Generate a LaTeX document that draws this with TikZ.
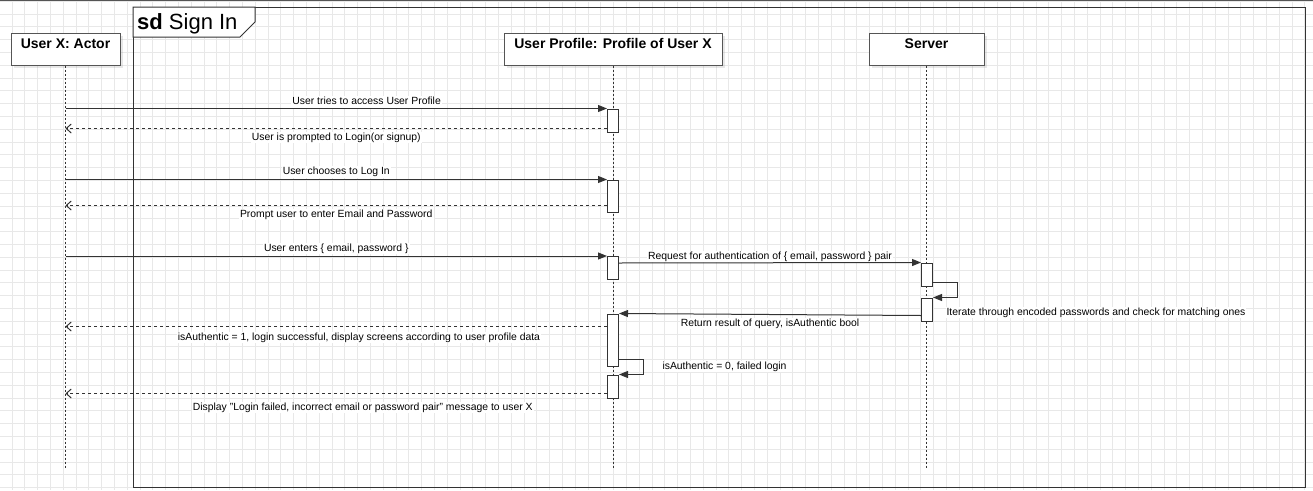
\documentclass[tikz,border=0pt]{standalone}
\usepackage{fontspec}
\setmainfont{Liberation Sans}
\usepackage{color}
\usepackage{tikz}
\definecolor{gray800}{HTML}{333333}
\definecolor{gray600}{HTML}{555555}
\definecolor{gray200}{HTML}{E8E8E8}
\usetikzlibrary{arrows.meta,shadows}
\tikzstyle{objeto}=[rectangle, draw=gray600, line width=1pt, fill=white, minimum height=32pt, inner sep=0pt, drop shadow={opacity=0.18, shadow xshift=3pt, shadow yshift=-3pt}]
\tikzstyle{titulo}=[font=\bfseries\fontsize{14}{16}\selectfont, anchor=north, inner sep=0pt]
\tikzstyle{linhavida}=[draw=gray800, line width=0.9pt, dash pattern=on 2pt off 2pt]
\tikzstyle{ativacao}=[rectangle, draw=gray800, line width=1pt, fill=white, minimum width=11pt, inner sep=0pt]
\tikzstyle{mensagem}=[draw=gray800, line width=1pt, -{Triangle[length=9pt,width=7pt]}]
\tikzstyle{retorno}=[draw=gray800, line width=1pt, dash pattern=on 3pt off 3pt, -{Straight Barb[length=5pt,width=9pt]}]
\tikzstyle{rotulo}=[font=\fontsize{10.4}{12}\selectfont, fill=white, inner sep=1pt, text height=7.5pt, text depth=2pt]

\begin{document}
\begin{tikzpicture}[x=1pt, y=-1pt]
	\useasboundingbox (0,0) rectangle (1313,490);
	% grade de fundo
	\foreach \i in {0,...,103}
		\draw[gray200, line width=0.8pt] ({-0.8+12.8*\i},0) -- ({-0.8+12.8*\i},490);
	\foreach \j in {0,...,38}
		\draw[gray200, line width=0.8pt] (0,{1.1+12.8*\j}) -- (1313,{1.1+12.8*\j});
	\draw[gray600, line width=1.5pt] (0,0.5) -- (1313,0.5);

	% quadro sd
	\draw[gray800, line width=1pt] (133,7) rectangle (1305,487);
	\draw[gray800, line width=1pt, fill=white] (133,7) -- (255,7) -- (255,22) -- (240,37) -- (133,37) -- cycle;
	\node[anchor=base west, inner sep=0pt, font=\fontsize{22}{24}\selectfont] (sd) at (137,29) {\textbf{sd} Sign In};

	% objetos e linhas de vida
	\node[objeto, minimum width=109pt] (ux) at (65.5,49) {};
	\node[objeto, minimum width=218pt] (up) at (613,49) {};
	\node[objeto, minimum width=115pt] (sv) at (926.5,49) {};
	\node[titulo] (tux) at ([yshift=-6pt]ux.north) {User X: Actor};
	\node[titulo] (tup) at ([yshift=-6pt]up.north) {User Profile: Profile of User X};
	\node[titulo] (tsv) at ([yshift=-6pt]sv.north) {Server};
	\draw[linhavida] (ux.south) -- ++(0,402);
	\draw[linhavida] (up.south) -- ++(0,402);
	\draw[linhavida] (sv.south) -- ++(0,402);

	% ativacoes
	\node[ativacao, minimum height=23pt] (a1) at (613,120.5) {};
	\node[ativacao, minimum height=32pt] (a2) at (613,196) {};
	\node[ativacao, minimum height=23pt] (a3) at (613,268) {};
	\node[ativacao, minimum height=23pt] (s1) at (927,274.5) {};
	\node[ativacao, minimum height=23pt] (s2) at (927,309.5) {};
	\node[ativacao, minimum height=52pt] (a4) at (613,340) {};
	\node[ativacao, minimum height=23pt] (a5) at (613,386.5) {};

	\coordinate (r1) at ([yshift=4pt]a1.south west);
	\coordinate (r2) at ([yshift=7pt]a2.south west);
	\coordinate (q1) at ([yshift=-7pt]a3.north east);
	\coordinate (l1) at ([yshift=4pt]s1.south east);
	\coordinate (q2) at ([yshift=6pt]s2.south west);
	\coordinate (r3) at ([yshift=-13pt]a4.north west);
	\coordinate (l2) at ([yshift=7pt]a4.south east);
	\coordinate (r4) at ([yshift=5pt]a5.south west);

	% mensagens
	\draw[mensagem] (a1.north west -| ux.south) -- (a1.north west)
		node[rotulo, pos=0.556, yshift=6.5pt] {User tries to access User Profile};
	\draw[retorno] (r1) -- (r1 -| ux.south)
		node[rotulo, midway, yshift=-9pt] {User is prompted to Login(or signup)};
	\draw[mensagem] (a2.north west -| ux.south) -- (a2.north west)
		node[rotulo, midway, yshift=7.5pt] {User chooses to Log In};
	\draw[retorno] (r2) -- (r2 -| ux.south)
		node[rotulo, midway, yshift=-9pt] {Prompt user to enter Email and Password};
	\draw[mensagem] (a3.north west -| ux.south) -- (a3.north west)
		node[rotulo, midway, yshift=7.5pt] {User enters \{ email, password \}};
	\draw[mensagem] (q1) -- (s1.north west)
		node[rotulo, midway, yshift=6.5pt] {Request for authentication of \{ email, password \} pair};
	\draw[mensagem] (l1) -- ++(24,0) |- (s2.north east)
		node[rotulo, anchor=west, xshift=12pt, yshift=-15pt] {Iterate through encoded passwords and check for matching ones};
	\draw[mensagem] (q2) -- (a4.north east)
		node[rotulo, midway, yshift=-9pt] {Return result of query, isAuthentic bool};
	\draw[retorno] (r3) -- (r3 -| ux.south)
		node[rotulo, pos=0.458, yshift=-11pt] {isAuthentic = 1, login successful, display screens according to user profile data};
	\draw[mensagem] (l2) -- ++(24,0) |- (a5.north east)
		node[rotulo, anchor=west, xshift=42pt, yshift=8pt] {isAuthentic = 0, failed login};
	\draw[retorno] (r4) -- (r4 -| ux.south)
		node[rotulo, pos=0.451, yshift=-14pt] {Display "Login failed, incorrect email or password pair" message to user X};
\end{tikzpicture}
\end{document}
